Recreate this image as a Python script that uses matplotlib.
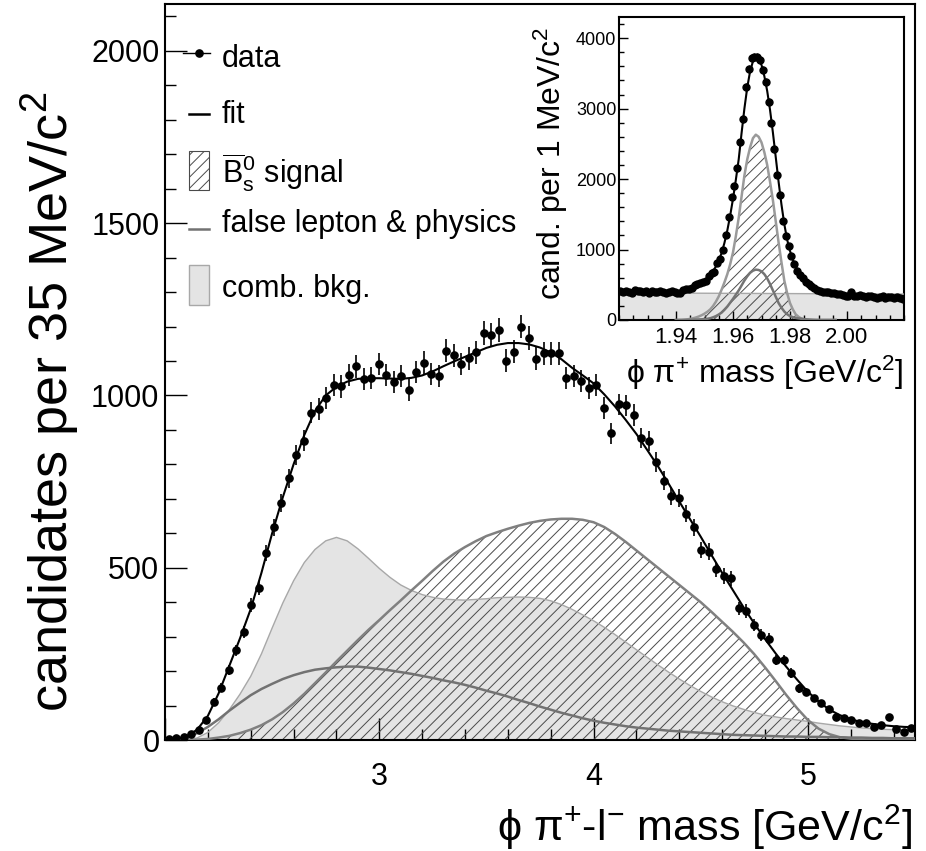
import numpy as np
import matplotlib
matplotlib.use("Agg")
import matplotlib.pyplot as plt
from matplotlib.patches import Rectangle
from matplotlib.ticker import MultipleLocator, FixedLocator, FormatStrFormatter

plt.rcParams["font.family"] = ["Liberation Sans", "DejaVu Sans"]
plt.rcParams["mathtext.fontset"] = "custom"
plt.rcParams["mathtext.rm"] = "Liberation Sans"
plt.rcParams["mathtext.it"] = "Liberation Sans:italic"
plt.rcParams["mathtext.bf"] = "Liberation Sans:bold"
plt.rcParams["hatch.linewidth"] = 0.7

# ---------------------------------------------------------------------------
# main plot: phi pi+ l- mass, 100 bins of 35 MeV between 2.0 and 5.5 GeV
# ---------------------------------------------------------------------------
mass_bins = 2.0175 + 0.035 * np.arange(100)
mass_counts = np.array([
    2, 5, 10, 17, 30, 57, 110, 152, 204, 261,
    313, 392, 441, 542, 617, 689, 760, 828, 869, 950,
    961, 992, 1030, 1026, 1060, 1084, 1048, 1050, 1091, 1060,
    1040, 1056, 1017, 1068, 1095, 1062, 1057, 1130, 1116, 1091,
    1108, 1125, 1181, 1176, 1190, 1101, 1127, 1200, 1166, 1106,
    1122, 1122, 1122, 1050, 1057, 1042, 1021, 1030, 963, 890,
    974, 971, 943, 876, 868, 807, 752, 708, 703, 657,
    617, 552, 547, 495, 476, 469, 382, 374, 334, 305,
    292, 232, 232, 194, 150, 140, 121, 106, 89, 68,
    63, 58, 48, 50, 39, 44, 66, 31, 24, 34,
])

# fit components, sampled every 0.05 GeV from 2.00 to 5.50
curve_mass = np.round(2.0 + 0.05 * np.arange(71), 2)
fit_total = [
    1, 3, 10, 30, 70, 135, 215, 295, 380, 485,
    600, 705, 800, 885, 955, 1000, 1025, 1040, 1048, 1050,
    1050, 1049, 1048, 1051, 1058, 1070, 1085, 1099, 1112, 1125,
    1138, 1147, 1152, 1152, 1148, 1139, 1125, 1105, 1080, 1058,
    1035, 1003, 968, 929, 888, 842, 795, 744, 692, 641,
    590, 537, 485, 435, 385, 338, 293, 251, 212, 175,
    140, 112, 88, 72, 60, 52, 47, 43, 40, 38,
    37,
]
signal_bs = [
    0, 0, 0, 1, 3, 7, 12, 20, 30, 43,
    60, 81, 106, 134, 165, 196, 228, 259, 290, 320,
    348, 377, 405, 434, 462, 491, 518, 541, 560, 577,
    592, 603, 613, 622, 630, 636, 640, 642, 642, 639,
    632, 618, 598, 575, 550, 525, 500, 475, 450, 425,
    400, 372, 343, 314, 283, 249, 211, 171, 130, 92,
    58, 33, 17, 8, 4, 1, 0, 0, 0, 0,
    0,
]
false_lepton = [
    0, 2, 8, 20, 38, 60, 85, 108, 130, 148,
    163, 177, 188, 197, 204, 208, 211, 213, 213, 210,
    206, 202, 197, 192, 186, 180, 173, 167, 160, 152,
    143, 135, 126, 116, 107, 97, 88, 79, 71, 63,
    56, 50, 45, 40, 36, 33, 30, 27, 25, 23,
    21, 19, 17, 15, 14, 13, 12, 11, 10, 10,
    9, 9, 8, 8, 7, 7, 6, 6, 5, 5,
    5,
]
comb_bkg = [
    0, 0, 0, 6, 22, 50, 88, 133, 185, 250,
    325, 398, 462, 515, 553, 578, 588, 578, 555, 527,
    498, 472, 450, 434, 422, 414, 409, 407, 406, 408,
    410, 413, 414, 415, 414, 411, 404, 393, 379, 363,
    346, 327, 306, 284, 262, 240, 218, 197, 177, 158,
    141, 125, 111, 99, 89, 80, 72, 67, 62, 58,
    54, 49, 45, 41, 38, 35, 33, 31, 30, 29,
    28,
]

# ---------------------------------------------------------------------------
# inset: phi pi+ mass, 100 bins of 1 MeV between 1.92 and 2.02 GeV
# ---------------------------------------------------------------------------
ds_bins = 1.9205 + 0.001 * np.arange(100)
ds_counts = np.array([
    405, 400, 415, 395, 390, 420, 405, 405, 395, 410,
    390, 405, 400, 395, 405, 400, 385, 395, 405, 395,
    380, 385, 420, 440, 435, 460, 490, 505, 520, 545,
    555, 630, 660, 680, 810, 870, 1000, 1200, 1460, 1740,
    1900, 2150, 2520, 2850, 3300, 3560, 3720, 3735, 3730, 3690,
    3550, 3380, 3090, 2800, 2420, 2060, 1780, 1400, 1190, 1050,
    910, 790, 700, 640, 590, 545, 510, 480, 450, 425,
    405, 400, 400, 395, 390, 385, 375, 370, 360, 345,
    345, 400, 345, 340, 355, 335, 330, 345, 340, 330,
    315, 330, 335, 315, 330, 320, 315, 325, 315, 305,
])

# inset fit: 5 MeV steps on the flat sides, 1 MeV steps across the peak
ds_fit_mass = np.round(np.concatenate([
    1.920 + 0.005 * np.arange(4),
    1.940 + 0.001 * np.arange(61),
    2.005 + 0.005 * np.arange(4),
]), 3)
ds_fit = [
    405, 404, 402, 400,
    405, 410, 418, 427, 438, 453, 470, 490, 515, 538,
    565, 598, 640, 693, 760, 845, 950, 1095, 1270, 1480,
    1720, 1990, 2280, 2650, 3000, 3300, 3530, 3670, 3730, 3710,
    3620, 3460, 3250, 2980, 2660, 2310, 1960, 1640, 1360, 1140,
    980, 855, 760, 690, 630, 582, 540, 505, 475, 448,
    425, 410, 400, 395, 390, 385, 380, 376, 372, 368,
    364,
    348, 336, 323, 311,
]

# inset signal components, 1 MeV steps from 1.940 to 1.996
ds_comp_mass = np.round(1.940 + 0.001 * np.arange(57), 3)
ds_signal = [
    0, 0, 2, 5, 10, 16, 25, 36, 50, 68,
    90, 117, 150, 198, 260, 335, 430, 535, 650, 790,
    960, 1190, 1450, 1750, 2050, 2280, 2450, 2580, 2630, 2600,
    2520, 2380, 2200, 1960, 1700, 1400, 1100, 820, 560, 380,
    240, 150, 80, 45, 20, 10, 5, 2, 0, 0,
    0, 0, 0, 0, 0, 0, 0,
]
ds_second = [
    0, 0, 0, 1, 2, 3, 4, 6, 8, 10,
    12, 17, 25, 38, 55, 78, 105, 145, 190, 245,
    300, 360, 420, 490, 560, 620, 670, 700, 715, 710,
    690, 650, 590, 510, 420, 330, 240, 175, 120, 82,
    55, 40, 30, 23, 18, 12, 8, 5, 3, 1,
    0, 0, 0, 0, 0, 0, 0,
]
ds_comb_mass = [1.920, 2.020]
ds_comb = [385, 368]

COMB_FILL = "#e4e4e4"
COMB_EDGE = "#a8a8a8"
SIG_LINE = "#808080"
FALSE_LINE = "#727272"
HATCH = "#4a4a4a"

W, H = 926, 851
fig = plt.figure(figsize=(W / 100, H / 100), dpi=100)

# main axes frame in pixels: left 165, right 915, top 4, bottom 740
ax = fig.add_axes([165 / W, 1 - 740 / H, 750 / W, 736 / H])
ax.set_xlim(2.0, 5.5)
ax.set_ylim(0, 2136)

ax.fill_between(curve_mass, 0, comb_bkg, facecolor=COMB_FILL, edgecolor="none", zorder=1)
ax.fill_between(curve_mass, 0, signal_bs, facecolor="none", edgecolor=HATCH,
                hatch="///", linewidth=0, zorder=2)
ax.plot(curve_mass, comb_bkg, color=COMB_EDGE, lw=1.0, zorder=3)
ax.plot(curve_mass, signal_bs, color=SIG_LINE, lw=1.8, zorder=3)
ax.plot(curve_mass, false_lepton, color=FALSE_LINE, lw=1.8, zorder=3)
ax.plot(curve_mass, fit_total, color="black", lw=1.5, zorder=4)
ax.errorbar(mass_bins, mass_counts, yerr=np.sqrt(mass_counts), fmt="o", ms=5.2,
            color="black", ecolor="black", elinewidth=1.2, capsize=0, zorder=5)

for s in ax.spines.values():
    s.set_linewidth(1.5)
ax.xaxis.set_major_locator(FixedLocator([2, 3, 4, 5]))
ax.set_xticklabels(["", "3", "4", "5"])
ax.xaxis.set_minor_locator(MultipleLocator(0.2))
ax.yaxis.set_major_locator(MultipleLocator(500))
ax.yaxis.set_minor_locator(MultipleLocator(100))
ax.tick_params(which="both", direction="in", top=False, right=False, width=1.0,
               labelsize=22)
ax.tick_params(which="major", length=16)
ax.tick_params(which="minor", length=8)
ax.tick_params(axis="x", pad=16)
ax.tick_params(axis="y", pad=4)


# legend drawn by hand (pixel positions converted to axes fraction)
def fx(px):
    return (px - 165) / 750


def fy(py):
    return (740 - py) / 736


tr = ax.transAxes
ax.plot([fx(183), fx(210)], [fy(53), fy(53)], color="black", lw=1.0, transform=tr,
        clip_on=False, zorder=7)
ax.plot([fx(199)], [fy(53)], "o", color="black", ms=5.2, transform=tr, zorder=7)
ax.plot([fx(189), fx(209)], [fy(114), fy(114)], color="black", lw=1.8, transform=tr,
        zorder=7)
ax.add_patch(Rectangle((fx(189), fy(190)), fx(209) - fx(189), fy(151) - fy(190),
                       transform=tr, facecolor="white", edgecolor=HATCH, hatch="///",
                       lw=0.8, zorder=7))
ax.plot([fx(189), fx(209)], [fy(229), fy(229)], color=FALSE_LINE, lw=1.8, transform=tr,
        zorder=7)
ax.add_patch(Rectangle((fx(189), fy(305)), fx(209) - fx(189), fy(265) - fy(305),
                       transform=tr, facecolor=COMB_FILL, edgecolor=COMB_EDGE,
                       lw=1.0, zorder=7))
legend_rows = [
    ("data", 67),
    ("fit", 123),
    (r"$\overline{\mathrm{B}}^{0}_{\mathrm{s}}$ signal", 183),
    ("false lepton & physics", 232),
    ("comb. bkg.", 297),
]
for label, base in legend_rows:
    ax.text(fx(222), fy(base), label, transform=tr, fontsize=22, ha="left",
            va="baseline", zorder=7)

fig.text(912 / W, 1 - 841 / H, r"ϕ π$^{+}$-l$^{-}$ mass [GeV/c$^{2}$]",
         ha="right", va="baseline", fontsize=31)
fig.text(50 / W, 1 - 92 / H, r"candidates per 35 MeV/c$^{2}$", rotation=90,
         ha="center", va="top", fontsize=39)

# ---------------------------------------------------------------------------
# inset axes: left 619, right 904, top 17, bottom 320 (pixels)
# ---------------------------------------------------------------------------
axin = fig.add_axes([619 / W, 1 - 320 / H, 285 / W, 303 / H], zorder=10)
axin.set_facecolor("white")
axin.set_xlim(1.92, 2.02)
axin.set_ylim(0, 4300)

axin.fill_between(ds_comb_mass, 0, ds_comb, facecolor=COMB_FILL, edgecolor="none", zorder=1)
axin.plot(ds_comb_mass, ds_comb, color=COMB_EDGE, lw=1.0, zorder=3)
axin.fill_between(ds_comp_mass, 0, ds_signal, facecolor="none", edgecolor=HATCH,
                  hatch="///", linewidth=0, zorder=2)
axin.plot(ds_comp_mass, ds_signal, color="#9a9a9a", lw=1.8, zorder=3)
axin.plot(ds_comp_mass, ds_second, color="#747474", lw=1.8, zorder=3)
axin.plot(ds_fit_mass, ds_fit, color="black", lw=1.5, zorder=4)
axin.errorbar(ds_bins, ds_counts, yerr=np.sqrt(ds_counts), fmt="o", ms=5.0,
              color="black", ecolor="black", elinewidth=1.0, capsize=0, zorder=5)

for s in axin.spines.values():
    s.set_linewidth(1.5)
axin.xaxis.set_major_locator(FixedLocator([1.94, 1.96, 1.98, 2.00]))
axin.xaxis.set_major_formatter(FormatStrFormatter("%.2f"))
axin.xaxis.set_minor_locator(MultipleLocator(0.005))
axin.yaxis.set_major_locator(MultipleLocator(1000))
axin.yaxis.set_minor_locator(MultipleLocator(200))
axin.tick_params(which="both", direction="in", top=False, right=False, width=1.0)
axin.tick_params(which="major", length=6.5)
axin.tick_params(which="minor", length=3.5)
axin.tick_params(axis="x", labelsize=16, pad=5)
axin.tick_params(axis="y", labelsize=13, pad=2)

fig.text(903 / W, 1 - 383 / H, r"ϕ π$^{+}$ mass [GeV/c$^{2}$]",
         ha="right", va="baseline", fontsize=23)
fig.text(551 / W, 1 - 27 / H, r"cand. per 1 MeV/c$^{2}$", rotation=90,
         ha="center", va="top", fontsize=23)

fig.savefig("out.png", dpi=100)
